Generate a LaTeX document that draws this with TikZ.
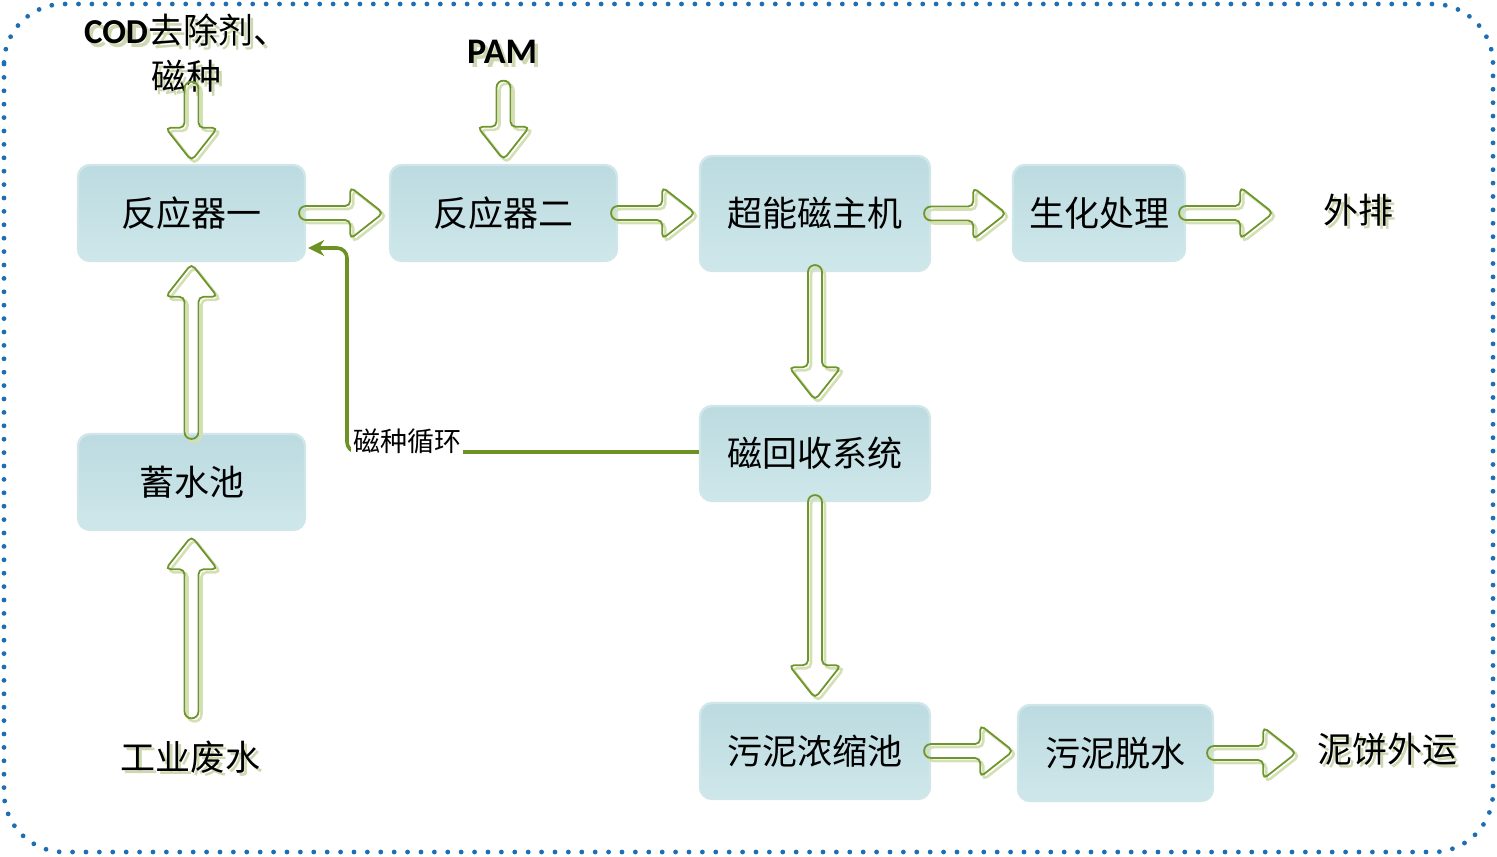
\documentclass[tikz,border=0pt]{standalone}
\usepackage{fontspec}
\setmainfont{Noto Sans CJK SC}
\newfontfamily\lat{Carlito}
\usetikzlibrary{arrows.meta}
\definecolor{arrgreen}{RGB}{110,150,45}
\definecolor{arrshadow}{RGB}{212,224,180}
\definecolor{boxfill}{RGB}{196,224,228}
\definecolor{boxtop}{RGB}{188,219,224}
\definecolor{boxbot}{RGB}{206,231,234}
\definecolor{boxedge}{RGB}{208,230,233}
\definecolor{dotblue}{RGB}{30,110,180}
\definecolor{txtshadow}{RGB}{205,216,176}
\definecolor{recycle}{RGB}{110,145,35}
\tikzset{
  x=0.5pt, y=-0.5pt,
  box/.style={rounded corners=6pt, top color=boxtop, bottom color=boxbot, draw=boxedge,
    line width=1.2pt, inner sep=0pt, font=\fontsize{17.5}{20}\selectfont},
  lbl/.style={inner sep=0pt, align=center, font=\fontsize{17.5}{23}\selectfont},
  shlbl/.style={lbl, text=txtshadow},
  recyc/.style={draw=recycle, line width=1.8pt, rounded corners=5pt,
    -{Stealth[length=8pt,width=8pt]}},
  pics/barrow/.style 2 args={code={
    \begin{scope}[shift={(3,3)}, rotate=#2]
      \draw[arrshadow, line width=1.3pt]
        (0,7) [rounded corners=2.5pt] -- ({#1-33},7) -- ({#1-33},26) -- (#1,0) -- ({#1-33},-26) -- ({#1-33},-7)
        [sharp corners] -- (0,-7) .. controls (-9.5,-7) and (-9.5,7) .. (0,7) -- cycle;
    \end{scope}
    \begin{scope}[rotate=#2]
      \draw[arrgreen, line width=0.9pt]
        (0,7) [rounded corners=2.5pt] -- ({#1-33},7) -- ({#1-33},26) -- (#1,0) -- ({#1-33},-26) -- ({#1-33},-7)
        [sharp corners] -- (0,-7) .. controls (-9.5,-7) and (-9.5,7) .. (0,7) -- cycle;
    \end{scope}
  }}
}
\newcommand\shnode[3]{%
  \node[shlbl] (#1s) at ([shift={(1.8pt,-1.8pt)}]#2) {#3};
  \node[lbl] (#1) at (#2) {#3};}
\begin{document}
\begin{tikzpicture}
\useasboundingbox (0,0) rectangle (1497,856);
% dotted frame
\draw[dotblue, line width=2.4pt, line cap=round, dash pattern=on 0pt off 6.7pt, rounded corners=30pt]
  (4,4) rectangle (1493,852);

% boxes
\node[box, minimum width=113.5pt, minimum height=48pt] (r1) at (191.5,213) {反应器一};
\node[box, minimum width=113.5pt, minimum height=48pt] (r2) at (503.5,213) {反应器二};
\node[box, minimum width=115pt, minimum height=57.5pt] (host) at (815,213.5) {超能磁主机};
\node[box, minimum width=86pt, minimum height=48pt] (bio) at (1099,213) {生化处理};
\node[box, minimum width=113.5pt, minimum height=48pt] (pool) at (191.5,482) {蓄水池};
\node[box, minimum width=115pt, minimum height=47.5pt] (mag) at (815,453.5) {磁回收系统};
\node[box, minimum width=115pt, minimum height=48pt] (thick) at (815,751) {污泥浓缩池};
\node[box, minimum width=97.5pt, minimum height=48pt] (dewat) at (1115.5,753) {污泥脱水};

% free labels with shadow
\shnode{cod}{186,53}{{\lat\bfseries COD}去除剂、\\磁种}
\shnode{pam}{502,52}{\lat\bfseries\fontsize{18}{20}\selectfont PAM}
\shnode{out}{1358,210}{外排}
\shnode{ww}{190,757}{工业废水}
\shnode{cake}{1387,749}{泥饼外运}

% block arrows
\pic at ([yshift=37.5pt]r1.north) {barrow={72}{-90}};
\pic at ([yshift=38pt]r2.north) {barrow={72}{-90}};
\pic at (r1.east) {barrow={77}{0}};
\pic at (r2.east) {barrow={77}{0}};
\pic at (host.east) {barrow={75}{0}};
\pic at (bio.east) {barrow={87}{0}};
\pic at ([yshift=0.5pt]pool.north) {barrow={168}{90}};
\pic at ([yshift=-90pt]pool.south) {barrow={175}{90}};
\pic at (host.south) {barrow={128}{-90}};
\pic at (mag.south) {barrow={196}{-90}};
\pic at (thick.east) {barrow={82}{0}};
\pic at (dewat.east) {barrow={82}{0}};

% magnetic seed recycle
\coordinate (c1) at (347,452);
\draw[recyc] (mag.west |- c1) -- (c1) |- ([xshift=1pt,yshift=-17.5pt]r1.east);
\node[lbl, fill=white, inner sep=1pt, font=\fontsize{13.5}{15}\selectfont] (rc) at (407,441) {磁种循环};
\end{tikzpicture}
\end{document}
